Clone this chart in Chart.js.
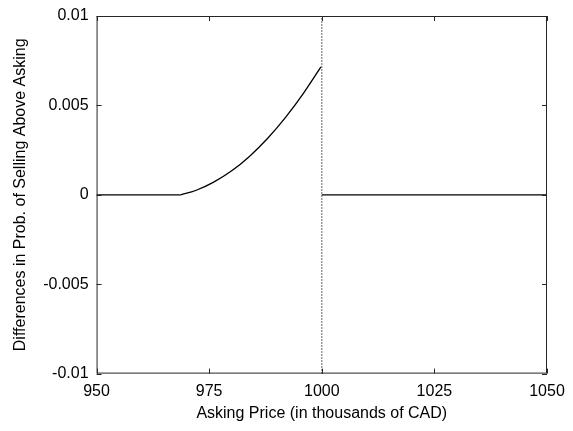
<!DOCTYPE html>
<html>
<head>
<meta charset="utf-8">
<script src="https://cdn.jsdelivr.net/npm/chart.js@4"></script>
<style>
  html, body { margin: 0; padding: 0; background: #fff; }
  #wrap { width: 573px; height: 431px; }
</style>
</head>
<body>
<div id="wrap"><canvas id="monGraphique" width="573" height="431"></canvas></div>
<script>
// Données
const xTicks = [950, 975, 1000, 1025, 1050];
const xTickLabels = ['950', '975', '1000', '1025', '1050'];
const yTicks = [-0.01, -0.005, 0, 0.005, 0.01];
const yTickLabels = ['-0.01', '-0.005', '0', '0.005', '0.01'];

// segment plat à gauche
const flatLeftX = [950, 968.7];
const flatLeftY = [0, 0];
// courbe montante
const curveX = [968.7, 972, 976, 980, 984, 988, 992, 996, 999.8];
const curveY = [0, 0.00024, 0.00071, 0.00134, 0.00216, 0.00316, 0.00434, 0.0057, 0.00715];
// segment plat à droite
const flatRightX = [1000, 1050];
const flatRightY = [0, 0];
// ligne verticale pointillée
const vLineX = [1000, 1000];
const vLineY = [-0.01, 0.01];

function pts(xs, ys) { return xs.map((x, i) => ({ x: x, y: ys[i] })); }

const font = { family: '"Liberation Sans", Arial, sans-serif', size: 16 };
const yTickFont = { family: '"Liberation Sans", Arial, sans-serif', size: 16, lineHeight: 1 };

// ticks vers l'intérieur + cadre, façon MATLAB
const boxPlugin = {
  id: 'boxTicks',
  afterDraw(chart) {
    const { ctx, chartArea: a, scales } = chart;
    ctx.save();
    ctx.strokeStyle = '#262626';
    ctx.lineWidth = 1;
    ctx.strokeRect(a.left + 0.5, a.top + 0.5, a.right - a.left - 1, a.bottom - a.top - 1);
    const len = 5;
    ctx.beginPath();
    xTicks.forEach(v => {
      const px = Math.round(scales.x.getPixelForValue(v)) + 0.5;
      ctx.moveTo(px, a.bottom); ctx.lineTo(px, a.bottom - len);
      ctx.moveTo(px, a.top); ctx.lineTo(px, a.top + len);
    });
    yTicks.forEach(v => {
      const py = Math.round(scales.y.getPixelForValue(v)) + 0.5;
      ctx.moveTo(a.left, py); ctx.lineTo(a.left + len, py);
      ctx.moveTo(a.right, py); ctx.lineTo(a.right - len, py);
    });
    ctx.stroke();
    ctx.restore();
  }
};

const common = { showLine: true, borderColor: '#000', borderWidth: 1.3, pointRadius: 0, fill: false };

new Chart(document.getElementById('monGraphique').getContext('2d'), {
  type: 'scatter',
  data: {
    datasets: [
      Object.assign({ data: pts(flatLeftX, flatLeftY) }, common),
      Object.assign({ data: pts(curveX, curveY), cubicInterpolationMode: 'monotone' }, common),
      Object.assign({ data: pts(flatRightX, flatRightY) }, common),
      Object.assign({}, common, { data: pts(vLineX, vLineY), borderWidth: 1.2, borderDash: [1, 2] })
    ]
  },
  options: {
    responsive: false,
    animation: false,
    layout: { padding: { top: 15, right: 26, left: 11, bottom: 8 } },
    plugins: { legend: { display: false }, tooltip: { enabled: false } },
    scales: {
      x: {
        type: 'linear', min: 950, max: 1050,
        grid: { display: false, drawTicks: false },
        border: { display: false },
        afterBuildTicks: axis => { axis.ticks = xTicks.map(v => ({ value: v })); },
        ticks: {
          color: '#000', font: font, padding: 8, maxRotation: 0,
          callback: (v) => xTickLabels[xTicks.indexOf(v)]
        },
        title: { display: true, text: 'Asking Price (in thousands of CAD)', color: '#000', font: font, padding: { top: -5, bottom: 0 } }
      },
      y: {
        type: 'linear', min: -0.01, max: 0.01,
        grid: { display: false, drawTicks: false },
        border: { display: false },
        afterBuildTicks: axis => { axis.ticks = yTicks.map(v => ({ value: v })); },
        ticks: {
          color: '#000', font: yTickFont, padding: 8,
          callback: (v) => yTickLabels[yTicks.findIndex(t => Math.abs(t - v) < 1e-9)]
        },
        title: { display: true, text: 'Differences in Prob. of Selling Above Asking', color: '#000', font: font, padding: { top: 0, bottom: 5 } }
      }
    }
  },
  plugins: [boxPlugin]
});
</script>
</body>
</html>
